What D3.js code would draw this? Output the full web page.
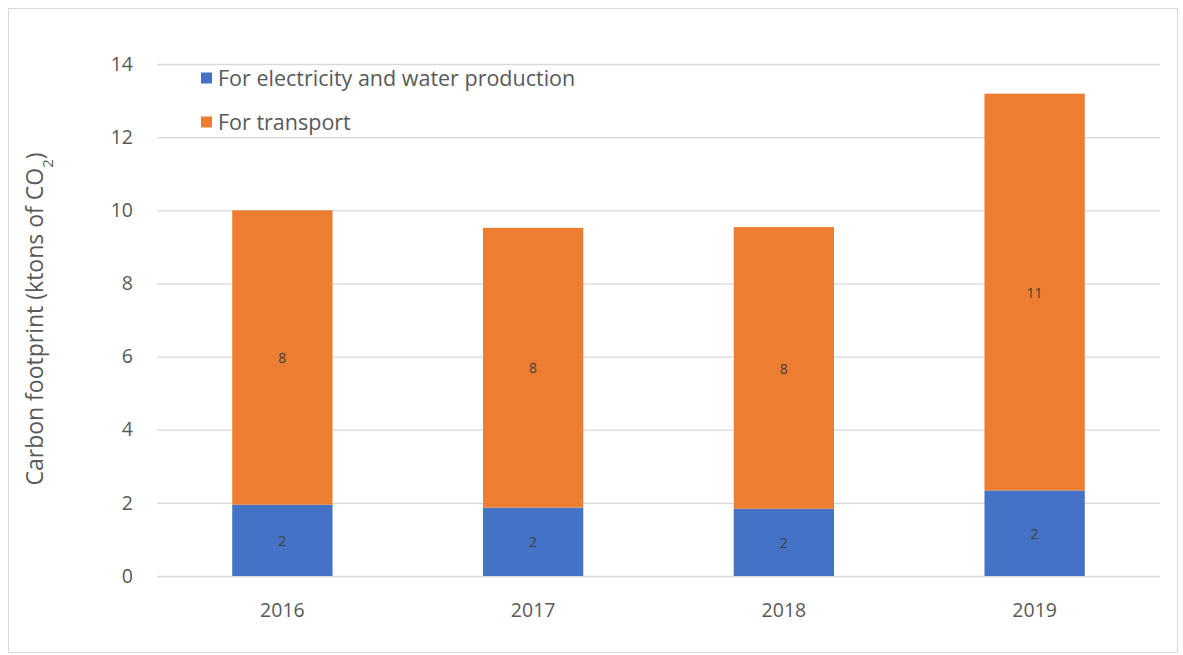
<!DOCTYPE html>
<html>
<head>
<meta charset="utf-8">
<script src="https://cdn.jsdelivr.net/npm/d3@7"></script>
<style>
  html, body { margin: 0; padding: 0; background: #fff; }
  svg { display: block; font-family: "Open Sans", Lato, sans-serif; }
</style>
</head>
<body>
<svg id="chart" width="1183" height="655"></svg>
<script>
const years = ["2016", "2017", "2018", "2019"];
const electricity = [1.95, 1.87, 1.84, 2.34];
const transport = [8.05, 7.65, 7.70, 10.85];
const seriesNames = ["For electricity and water production", "For transport"];
const seriesColors = ["#4472C4", "#ED7D31"];
const yTicks = [0, 2, 4, 6, 8, 10, 12, 14];

const FONT = "'Open Sans', Lato, sans-serif";
const svg = d3.select("#chart");
const W = 1183, H = 655;
const m = { left: 157, right: 23, top: 64, bottom: 79 };

// frame
svg.append("rect").attr("x", 8.5).attr("y", 8.5).attr("width", 1169).attr("height", 644)
  .attr("fill", "#fff").attr("stroke", "#d9d9d9").attr("stroke-width", 1);

const x = d3.scaleBand().domain(years).range([m.left, W - m.right]).paddingInner(0.6).paddingOuter(0.3);
const y = d3.scaleLinear().domain([0, 14]).range([H - m.bottom, m.top]);

// gridlines
const yAxis = d3.axisLeft(y).tickValues(yTicks).tickSize(-(W - m.right - m.left)).tickPadding(24).tickFormat(d3.format("d"));
const gy = svg.append("g").attr("transform", `translate(${m.left},0)`).call(yAxis);
gy.select(".domain").remove();
gy.selectAll(".tick line").attr("stroke", "#d9d9d9").attr("stroke-width", 1.3);
gy.selectAll(".tick text").attr("fill", "#595959").style("font-size", "19.5px").style("font-family", FONT);

// x axis labels
const xAxis = d3.axisBottom(x).tickSize(0).tickPadding(27);
const gx = svg.append("g").attr("transform", `translate(0,${H - m.bottom})`).call(xAxis);
gx.select(".domain").remove();
gx.selectAll(".tick text").attr("fill", "#595959").style("font-size", "19.5px").style("font-family", FONT);

// stacked data
const rows = years.map((yr, i) => ({ year: yr, e: electricity[i], t: transport[i] }));
const stack = d3.stack().keys(["e", "t"]);
const layers = stack(rows);

const g = svg.append("g");
layers.forEach((layer, li) => {
  g.selectAll(null).data(layer).enter().append("rect")
    .attr("x", d => x(d.data.year))
    .attr("width", x.bandwidth())
    .attr("y", d => y(d[1]))
    .attr("height", d => y(d[0]) - y(d[1]))
    .attr("fill", seriesColors[li]);
  g.selectAll(null).data(layer).enter().append("text")
    .attr("x", d => x(d.data.year) + x.bandwidth() / 2)
    .attr("y", d => (y(d[0]) + y(d[1])) / 2)
    .attr("dy", "0.4em")
    .attr("text-anchor", "middle")
    .attr("fill", "#404040")
    .style("font-size", "14px")
    .text(d => d3.format(".0f")(d[1] - d[0]));
});

// legend
const legend = svg.append("g");
seriesNames.forEach((name, i) => {
  const cy = 78 + i * 44;
  legend.append("rect").attr("x", 201).attr("y", cy - 5.5).attr("width", 11).attr("height", 11).attr("fill", seriesColors[i]);
  legend.append("text").attr("x", 218).attr("y", cy).attr("dy", "0.35em")
    .attr("fill", "#595959").style("font-size", "21.5px").text(name);
});

// y-axis title
const yt = svg.append("text")
  .attr("transform", `translate(43,${(y(0) + y(14)) / 2 - 1}) rotate(-90)`)
  .attr("text-anchor", "middle")
  .attr("fill", "#595959")
  .style("font-size", "23px");
yt.append("tspan").text("Carbon footprint (ktons of CO");
yt.append("tspan").attr("baseline-shift", "sub").style("font-size", "15px").text("2");
yt.append("tspan").text(")");
</script>
</body>
</html>
